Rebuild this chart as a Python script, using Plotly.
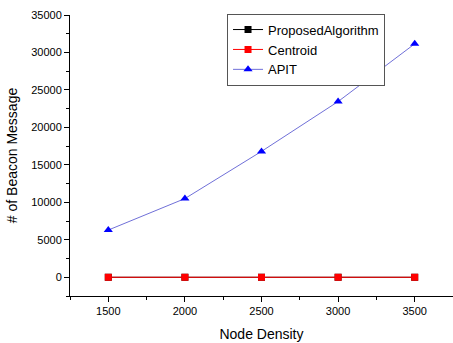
import plotly.graph_objects as go

node_density = [1500, 2000, 2500, 3000, 3500]
proposed = [0, 0, 0, 0, 0]
centroid = [0, 0, 0, 0, 0]
apit = [6300, 10500, 16800, 23450, 31150]
x_ticks = [1500, 2000, 2500, 3000, 3500]
y_ticks = [0, 5000, 10000, 15000, 20000, 25000, 30000, 35000]

fig = go.Figure()
fig.add_trace(go.Scatter(x=node_density, y=proposed, name="ProposedAlgorithm",
                         mode="lines+markers", line=dict(color="black", width=1),
                         marker=dict(symbol="square", size=7, color="black")))
fig.add_trace(go.Scatter(x=node_density, y=centroid, name="Centroid",
                         mode="lines+markers", line=dict(color="#ff0000", width=1),
                         marker=dict(symbol="square", size=7, color="#ff0000")))
fig.add_trace(go.Scatter(x=node_density, y=apit, name="APIT",
                         mode="lines+markers", line=dict(color="#7070d8", width=1),
                         marker=dict(symbol="triangle-up", size=8, color="#0000ff")))

font = "Liberation Sans, Arial, sans-serif"
fig.update_layout(
    width=453, height=343,
    margin=dict(l=70, r=0, t=15, b=47),
    paper_bgcolor="white", plot_bgcolor="white",
    font=dict(family=font, color="black", size=11),
    showlegend=True,
    legend=dict(x=0.41, y=1.005, xanchor="left", yanchor="top",
                bordercolor="#555555", borderwidth=1, bgcolor="white",
                font=dict(size=13, family=font), tracegroupgap=0,
                itemwidth=30),
    xaxis=dict(range=[1250, 3750], tickvals=x_ticks, ticktext=[str(v) for v in x_ticks],
               showgrid=False, zeroline=False, showline=True, linecolor="black",
               linewidth=1, ticks="outside", ticklen=5, tickcolor="black",
               minor=dict(dtick=250, tick0=1250, ticks="outside", ticklen=3, tickcolor="black"),
               title=dict(text="Node Density", font=dict(size=14), standoff=12),
               tickfont=dict(size=11)),
    yaxis=dict(range=[-2500, 35000], tickvals=y_ticks, ticktext=[str(v) for v in y_ticks],
               showgrid=False, zeroline=False, showline=True, linecolor="black",
               linewidth=1, ticks="outside", ticklen=5, tickcolor="black",
               minor=dict(dtick=2500, tick0=0, ticks="outside", ticklen=3, tickcolor="black"),
               title=dict(text="# of Beacon Message", font=dict(size=14), standoff=10),
               tickfont=dict(size=11)),
)
fig.write_html("out.html")
